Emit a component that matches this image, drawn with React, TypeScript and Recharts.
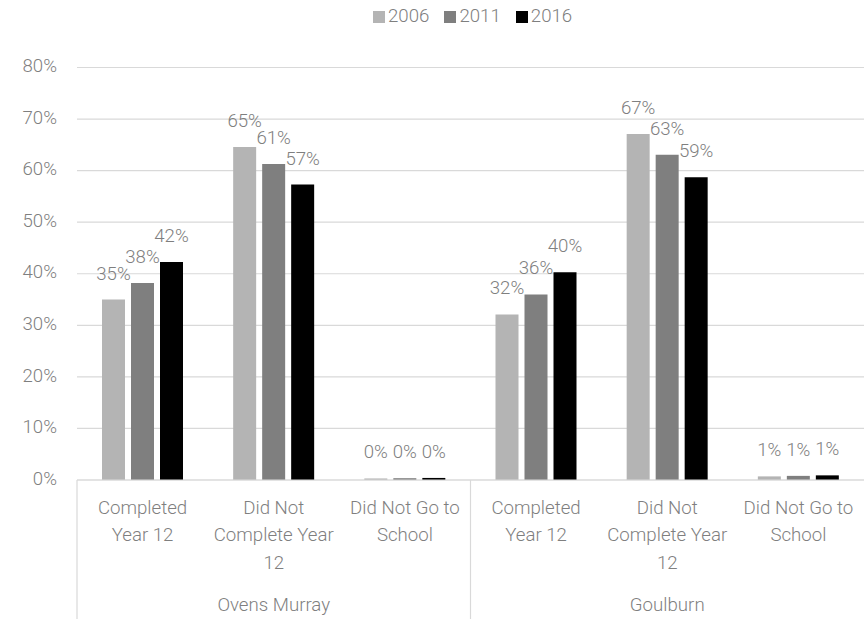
import React from "react";
import {
  BarChart,
  Bar,
  XAxis,
  YAxis,
  CartesianGrid,
  Legend,
  LabelList,
} from "recharts";

// Share of population by schooling outcome, per region and census year (%)
const regions = ["Ovens Murray", "Goulburn"];
const categories = ["Completed Year 12", "Did Not Complete Year 12", "Did Not Go to School"];
const categoryLines: Record<string, string[]> = {
  "Completed Year 12": ["Completed", "Year 12"],
  "Did Not Complete Year 12": ["Did Not", "Complete Year", "12"],
  "Did Not Go to School": ["Did Not Go to", "School"],
};
const years = ["2006", "2011", "2016"];
const yearColors = ["#b4b4b4", "#7f7f7f", "#000000"];

const values2006 = [35.0, 64.6, 0.3, 32.1, 67.1, 0.7];
const values2011 = [38.2, 61.3, 0.35, 36.0, 63.1, 0.8];
const values2016 = [42.3, 57.3, 0.4, 40.3, 58.7, 0.9];
const yTicks = [0, 10, 20, 30, 40, 50, 60, 70, 80];

const data = regions.flatMap((region, r) =>
  categories.map((category, c) => {
    const i = r * categories.length + c;
    return {
      key: `${region}|${category}`,
      region,
      category,
      y2006: values2006[i],
      y2011: values2011[i],
      y2016: values2016[i],
    };
  })
);

const WIDTH = 864;
const HEIGHT = 619;
const CAT_AXIS_H = 110;
const REGION_AXIS_H = 29;
const FONT = "Roboto, 'Noto Sans', sans-serif";
const TEXT = "#7f7f7f";
const FS = 18.67;
const LINE = "#d9d9d9";

const CategoryTick = (props: any) => {
  const { x, y, payload } = props;
  const cat = String(payload.value).split("|")[1] ?? "";
  const lines = categoryLines[cat] ?? [cat];
  return (
    <g>
      {lines.map((ln, k) => (
        <text
          key={k}
          x={x}
          y={y + 33.5 + k * 27.5}
          textAnchor="middle"
          fill={TEXT}
          fontFamily={FONT}
          fontWeight={300}
          fontSize={FS}
        >
          {ln}
        </text>
      ))}
    </g>
  );
};

// Region labels, plus the separators that bound each region's block of categories
const RegionTick = (props: any) => {
  const { x, y, payload } = props;
  const half = payload.offset ?? 0;
  const left = x - half;
  return (
    <g>
      <line x1={left} x2={left} y1={y - CAT_AXIS_H} y2={HEIGHT} stroke={LINE} strokeWidth={1.2} />
      <text
        x={x}
        y={y + 21}
        textAnchor="middle"
        fill={TEXT}
        fontFamily={FONT}
        fontWeight={300}
        fontSize={FS}
      >
        {payload.value}
      </text>
    </g>
  );
};

const LegendContent = () => (
  <div
    style={{
      height: 62.5,
      display: "flex",
      alignItems: "flex-start",
      paddingLeft: 373,
      boxSizing: "border-box",
      fontFamily: FONT,
      fontWeight: 300,
      fontSize: FS,
      color: TEXT,
    }}
  >
    {years.map((yr, i) => (
      <div
        key={yr}
        style={{ display: "flex", alignItems: "center", height: 22, marginRight: 15 }}
      >
        <span
          style={{
            display: "inline-block",
            width: 12,
            height: 12,
            background: yearColors[i],
            marginRight: 3,
            marginTop: 2,
          }}
        />
        <span style={{ lineHeight: "22px" }}>{yr}</span>
      </div>
    ))}
  </div>
);

export default function App() {
  return (
    <div style={{ position: "absolute", left: 0, top: 0, background: "#fff" }}>
      <BarChart
        width={WIDTH}
        height={HEIGHT}
        data={data}
        margin={{ top: 5, right: 0, bottom: 0, left: 0 }}
        barSize={23}
        barGap={6}
      >
        <CartesianGrid vertical={false} stroke={LINE} strokeWidth={1.2} />
        <Legend verticalAlign="top" content={<LegendContent />} />
        <XAxis
          xAxisId="cat"
          dataKey="key"
          height={CAT_AXIS_H}
          tickSize={0}
          tickMargin={0}
          tickLine={false}
          axisLine={{ stroke: LINE, strokeWidth: 1.2 }}
          interval={0}
          tick={<CategoryTick />}
        />
        <XAxis
          xAxisId="region"
          dataKey="region"
          allowDuplicatedCategory={false}
          height={REGION_AXIS_H}
          tickSize={0}
          tickMargin={0}
          tickLine={false}
          axisLine={false}
          interval={0}
          tick={<RegionTick />}
        />
        <YAxis
          width={77}
          domain={[0, 80]}
          ticks={yTicks}
          interval={0}
          axisLine={false}
          tickLine={false}
          tickSize={0}
          tickMargin={20}
          tickFormatter={(v: number) => `${v}%`}
          tick={{ fill: TEXT, fontFamily: FONT, fontWeight: 300, fontSize: FS, dy: -2 }}
        />
        {years.map((yr, i) => (
          <Bar
            key={yr}
            xAxisId="cat"
            dataKey={`y${yr}`}
            name={yr}
            fill={yearColors[i]}
            isAnimationActive={false}
          >
            <LabelList
              dataKey={`y${yr}`}
              position="top"
              offset={20}
              fill={TEXT}
              fontFamily={FONT}
              fontWeight={300}
              fontSize={FS}
              formatter={(v: any) => `${Math.round(Number(v))}%`}
            />
          </Bar>
        ))}
      </BarChart>
    </div>
  );
}
